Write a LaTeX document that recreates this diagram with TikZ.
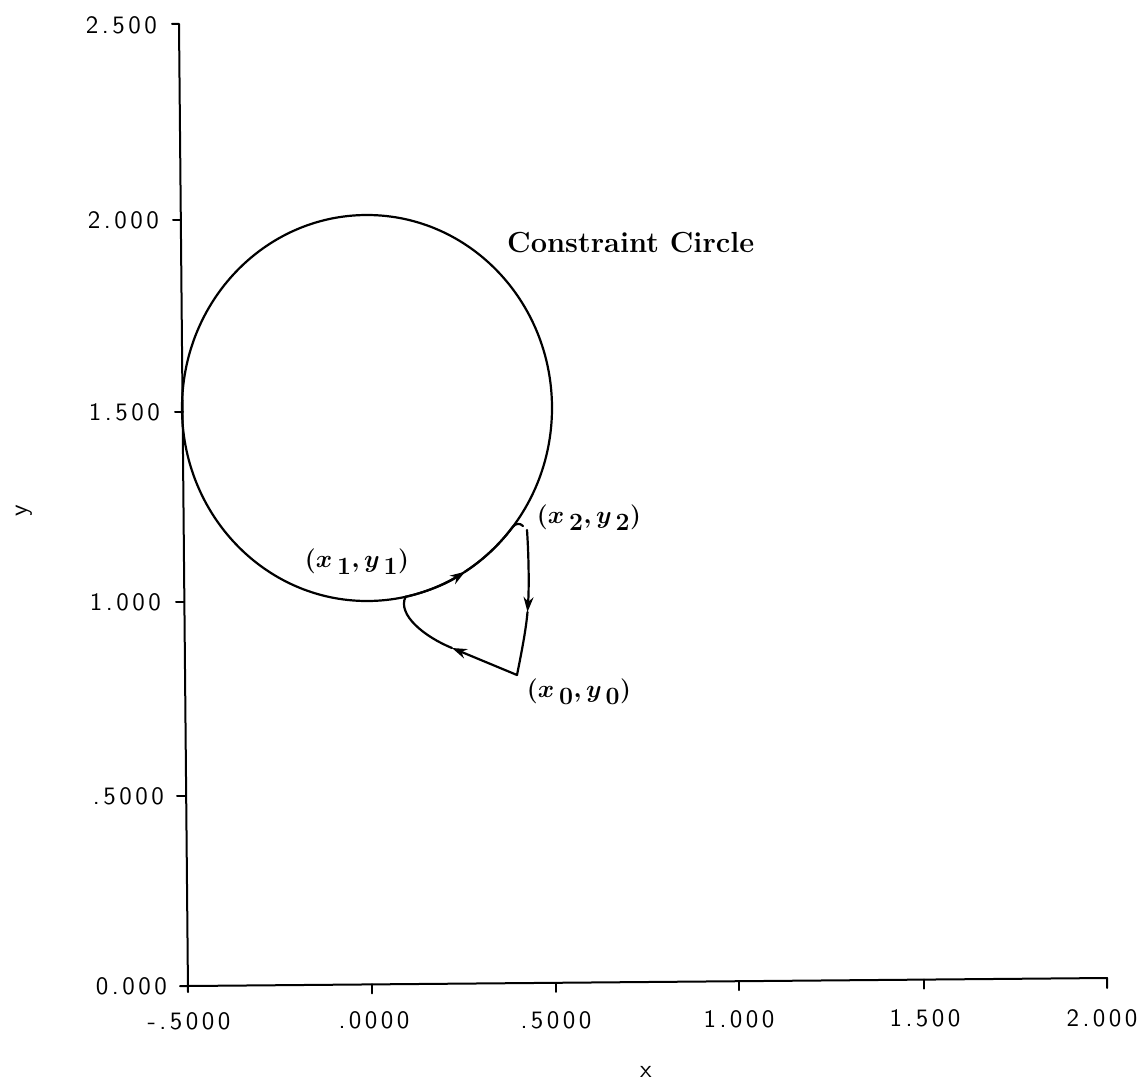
\documentclass[tikz,border=0pt]{standalone}
\usepackage{fontspec}
\usetikzlibrary{arrows.meta}
\newfontfamily\plotfam{lmsans10-regular.otf}[LetterSpace=14]
\newcommand\plotfont{\plotfam\fontsize{25}{25}\selectfont}
\tikzset{
  axisline/.style={line width=2pt, line cap=round, line join=round},
  ticklab/.style={font=\plotfont, inner sep=0pt},
  curve/.style={line width=2.2pt, line cap=round, line join=round},
  tip/.style={-{Stealth[length=15pt,width=10pt]}},
  ptlab/.style={font=\fontsize{35}{35}\selectfont\boldmath, inner sep=0pt},
  titlelab/.style={font=\fontsize{29}{29}\selectfont\bfseries, inner sep=0pt}
}
\begin{document}
\begin{tikzpicture}[x=1pt,y=-1pt]
\useasboundingbox (0,0) rectangle (1148,1086);
% axes
\coordinate (ytop) at (179,24);
\coordinate (orig) at (188,986);
\coordinate (xend) at (1107,978);
\draw[axisline] (172,24) -- (ytop) -- (188,992);
\draw[axisline] (180,986) -- (orig) -- (xend) -- (1107,988);
% y ticks
\draw[axisline] (173,220) -- (181,220);
\draw[axisline] (175,412) -- (183,412);
\draw[axisline] (176,602) -- (184,602);
\draw[axisline] (177,796) -- (185,796);
% x ticks
\foreach \xx/\yy in {372/984.4, 556/982.8, 739/981.2, 924/979.6}
  \draw[axisline] (\xx,\yy) -- (\xx,\yy+9);
% y labels
\node[ticklab, anchor=east] (ly25) at (157,25) {2.500};
\node[ticklab, anchor=east] (ly20) at (159,220) {2.000};
\node[ticklab, anchor=east] (ly15) at (160,412) {1.500};
\node[ticklab, anchor=east] (ly10) at (161,602) {1.000};
\node[ticklab, anchor=east] (ly05) at (164,796) {.5000};
\node[ticklab, anchor=east] (ly00) at (167,986) {0.000};
% x labels
\node[ticklab] (lxm05) at (189,1021) {-.5000};
\node[ticklab] (lx00) at (374,1020) {.0000};
\node[ticklab] (lx05) at (556,1020) {.5000};
\node[ticklab] (lx10) at (739,1019) {1.000};
\node[ticklab] (lx15) at (925,1018) {1.500};
\node[ticklab] (lx20) at (1102,1018) {2.000};
% axis titles
\node[ticklab, rotate=90] (ytitle) at (24,511) {y};
\node[ticklab] (xtitle) at (646,1072) {x};
% constraint circle
\draw[curve] (367,408) ellipse [x radius=185, y radius=193];
\node[titlelab, anchor=west] (title) at (507,243) {Constraint Circle};
% points
\coordinate (P1) at (405.5,596.8);
\coordinate (A1) at (465,571.7);
\coordinate (P2) at (512.8,526.8);
\coordinate (P2b) at (527,530);
\coordinate (A2) at (527.5,612);
\coordinate (P0) at (517,675);
\coordinate (A3) at (452,648);
% trajectory along circle
\draw[curve, tip] (P1) arc[start angle=78, end angle=58, x radius=185, y radius=193];
\draw[curve] (A1) arc[start angle=58, end angle=38, x radius=185, y radius=193];
\draw[curve] (P2) .. controls (516,523) and (520,523) .. (523,526);
\draw[curve, tip] (P2b) .. controls (529,560) and (529,590) .. (A2);
\draw[curve] (A2) .. controls (526,630) and (521,655) .. (P0);
\draw[curve, tip] (P0) -- (A3);
\draw[curve] (A3) .. controls (425,637) and (397,615) .. (P1);
% point labels
\node[ptlab] (l1) at (357,562) {$(x_{\,1},y_{\,1})$};
\node[ptlab] (l2) at (589,518) {$(x_{\,2},y_{\,2})$};
\node[ptlab] (l0) at (579,692) {$(x_{\,0},y_{\,0})$};
\end{tikzpicture}
\end{document}
